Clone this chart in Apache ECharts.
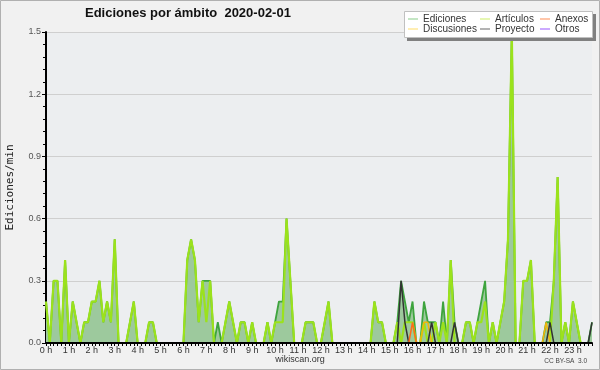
<!DOCTYPE html>
<html><head><meta charset="utf-8">
<script src="https://cdn.jsdelivr.net/npm/echarts@6/dist/echarts.min.js"></script>
<style>html,body{margin:0;padding:0;background:#f1f1f1}#c{width:600px;height:370px}</style>
</head><body><div id="c"></div><script>
const hourLabels = ["0 h","1 h","2 h","3 h","4 h","5 h","6 h","7 h","8 h","9 h","10 h","11 h","12 h","13 h","14 h","15 h","16 h","17 h","18 h","19 h","20 h","21 h","22 h","23 h"];
const times = [];
for (let h = 0; h < 24; h++) for (let m = 0; m < 60; m += 10) times.push(String(h).padStart(2,'0') + ':' + String(m).padStart(2,'0'));

const ediciones = [
 0.2,0,0.3,0.3,0,0.4,0,0.2,0.1,0,0.1,0.1,
 0.2,0.2,0.3,0.1,0.2,0.1,0.5,0,0,0,0.1,0.2,
 0,0,0,0.1,0.1,0,0,0,0,0,0,0,
 0,0.4,0.5,0.4,0.1,0.3,0.3,0.3,0,0.1,0,0.1,
 0.2,0.1,0,0.1,0.1,0,0.1,0,0,0,0.1,0,
 0.1,0.2,0.2,0.6,0.3,0,0,0,0.1,0.1,0.1,0,
 0,0.1,0.2,0,0,0,0,0,0,0,0,0,
 0,0,0.2,0.1,0.1,0,0,0,0.1,0.3,0.2,0.1,
 0.2,0,0,0.2,0.1,0.1,0.1,0,0.2,0,0.4,0.1,
 0,0,0.1,0.1,0,0.1,0.2,0.3,0,0.1,0,0.1,
 0.2,0.5,1.5,0,0,0.3,0.3,0.4,0,0,0,0.1,
 0.1,0.3,0.8,0,0.1,0,0.2,0.1,0,0,0,0.1
];
const articulos = [
 0.2,0,0.3,0.3,0,0.4,0,0.2,0.1,0,0.1,0.1,
 0.2,0.2,0.3,0.1,0.2,0.1,0.5,0,0,0,0.1,0.2,
 0,0,0,0.1,0.1,0,0,0,0,0,0,0,
 0,0.4,0.5,0.4,0.1,0.3,0.1,0.3,0,0,0,0.1,
 0.2,0.1,0,0.1,0.1,0,0.1,0,0,0,0.1,0,
 0.1,0.1,0.1,0.6,0.3,0,0,0,0.1,0.1,0.1,0,
 0,0.1,0.2,0,0,0,0,0,0,0,0,0,
 0,0,0.2,0.1,0.1,0,0,0,0.1,0,0.1,0.1,
 0.1,0,0,0.1,0,0,0.1,0,0.1,0,0.4,0,
 0,0,0.1,0.1,0,0.1,0.1,0.2,0,0.1,0,0.1,
 0.2,0.5,1.5,0,0,0.3,0.3,0.4,0,0,0,0,
 0,0.3,0.8,0,0.1,0,0.2,0.1,0,0,0,0
];
const anexos = [
 0,0,0,0,0,0,0,0,0,0,0,0,
 0,0,0,0,0,0,0,0,0,0,0,0,
 0,0,0,0,0,0,0,0,0,0,0,0,
 0,0,0,0,0,0,0,0,0,0,0,0,
 0,0,0,0,0,0,0,0,0,0,0,0,
 0,0,0,0,0,0,0,0,0,0,0,0,
 0,0,0,0,0,0,0,0,0,0,0,0,
 0,0,0,0,0,0,0,0,0,0,0,0,
 0.1,0,0,0,0,0,0,0,0,0,0,0,
 0,0,0,0,0,0,0,0,0,0,0,0,
 0,0,0,0,0,0,0,0,0,0,0,0,
 0,0,0,0,0,0,0,0,0,0,0,0
];
const discusiones = [
 0,0,0,0,0,0,0,0,0,0,0,0,
 0,0,0,0,0,0,0,0,0,0,0,0,
 0,0,0,0,0,0,0,0,0,0,0,0,
 0,0,0,0,0,0,0,0,0,0,0,0,
 0,0,0,0,0,0,0,0,0,0,0,0,
 0,0,0,0,0,0,0,0,0,0,0,0,
 0,0,0,0,0,0,0,0,0,0,0,0,
 0,0,0,0,0,0,0,0,0,0,0,0,
 0,0,0,0.1,0.1,0,0,0,0,0,0,0,
 0,0,0,0,0,0,0,0,0,0,0,0,
 0,0,0,0,0,0,0,0,0,0,0,0.1,
 0,0,0,0,0,0,0,0,0,0,0,0
];
const proyecto = [
 0,0,0,0,0,0,0,0,0,0,0,0,
 0,0,0,0,0,0,0,0,0,0,0,0,
 0,0,0,0,0,0,0,0,0,0,0,0,
 0,0,0,0,0,0,0,0,0,0,0,0,
 0,0,0,0,0,0,0,0,0,0,0,0,
 0,0,0,0,0,0,0,0,0,0,0,0,
 0,0,0,0,0,0,0,0,0,0,0,0,
 0,0,0,0,0,0,0,0,0,0.3,0.1,0,
 0,0,0,0,0,0.1,0,0,0,0,0,0.1,
 0,0,0,0,0,0,0,0,0,0,0,0,
 0,0,0,0,0,0,0,0,0,0,0,0,
 0.1,0,0,0,0,0,0,0,0,0,0,0.1
];
const otros = [
 0,0,0,0,0,0,0,0,0,0,0,0,
 0,0,0,0,0,0,0,0,0,0,0,0,
 0,0,0,0,0,0,0,0,0,0,0,0,
 0,0,0,0,0,0,0,0,0,0,0,0,
 0,0,0,0,0,0,0,0,0,0,0,0,
 0,0,0,0,0,0,0,0,0,0,0,0,
 0,0,0,0,0,0,0,0,0,0,0,0,
 0,0,0,0,0,0,0,0,0,0,0,0,
 0,0,0,0,0,0,0,0,0,0,0,0,
 0,0,0,0,0,0,0,0,0,0,0,0,
 0,0,0,0,0,0,0,0,0,0,0,0,
 0,0,0,0,0,0,0,0,0,0,0,0
];

const chart = echarts.init(document.getElementById('c'), null, {renderer: 'canvas'});
const legendText = {fontFamily: 'Liberation Sans', fontSize: 10, color: '#333', lineHeight: 10};
function legendCol(left, items) {
  return {
    orient: 'vertical', left: left, top: 14, padding: 0, itemGap: 0,
    itemWidth: 10, itemHeight: 1, icon: 'rect', z: 6,
    textStyle: legendText, itemStyle: {borderWidth: 0},
    data: items
  };
}
const line = (name, data, color, width, z, extra) => Object.assign({
  name: name, type: 'line', data: data, symbol: 'none', showSymbol: false,
  lineStyle: {color: color, width: width}, itemStyle: {color: color},
  z: z, animation: false
}, extra || {});

chart.setOption({
  backgroundColor: '#f1f1f1',
  animation: false,
  title: {
    text: 'Ediciones por ámbito  2020-02-01', left: 85, top: 7, padding: 0,
    textStyle: {fontFamily: 'Liberation Sans', fontWeight: 'bold', fontSize: 13, color: '#111'}
  },
  grid: {left: 46, right: 8, top: 32, bottom: 27, show: true, backgroundColor: '#eceef0', borderWidth: 0, containLabel: false, outerBoundsMode: 'none'},
  legend: [
    legendCol(408, [{name: 'Ediciones', itemStyle: {color: '#88cc88'}}, {name: 'Discusiones', itemStyle: {color: '#ffdd66'}}]),
    legendCol(480, [{name: 'Artículos', itemStyle: {color: '#ccee66'}}, {name: 'Proyecto', itemStyle: {color: '#666666'}}]),
    legendCol(540, [{name: 'Anexos', itemStyle: {color: '#ff8c55'}}, {name: 'Otros', itemStyle: {color: '#9955ff'}}])
  ],
  xAxis: {
    type: 'category', data: times, boundaryGap: false, z: 10,
    axisLine: {lineStyle: {color: '#000', width: 2}},
    axisTick: {show: true, interval: 0, length: 3, lineStyle: {color: '#000', width: 1}},
    axisLabel: {
      interval: 0, margin: 3, fontFamily: 'Liberation Sans', fontSize: 9, color: '#333',
      formatter: (v, idx) => idx % 6 === 0 ? hourLabels[idx / 6] : ''
    },
    splitLine: {show: false}
  },
  yAxis: {
    type: 'value', min: 0, max: 1.5, interval: 0.3,
    name: 'Ediciones/min', nameLocation: 'middle', nameRotate: 90, nameGap: 30,
    nameTextStyle: {fontFamily: 'DejaVu Sans Mono', fontSize: 11, color: '#222'},
    axisLine: {show: true, lineStyle: {color: '#000', width: 2}},
    axisTick: {show: true, length: 4, lineStyle: {color: '#000'}},
    minorTick: {show: true, splitNumber: 5, length: 3, lineStyle: {color: '#000'}},
    axisLabel: {margin: 5, fontFamily: 'Liberation Sans', fontSize: 9, color: '#555', formatter: v => v.toFixed(1)},
    splitLine: {show: true, lineStyle: {color: '#cfcfcf', width: 1}}
  },
  series: [
    line('Ediciones', ediciones, '#3ea43e', 1.8, 2, {areaStyle: {color: '#9dc99d', opacity: 1}}),
    line('Artículos', articulos, '#9be21c', 2.2, 3),
    line('Discusiones', discusiones, '#f2b50a', 1.5, 4),
    line('Proyecto', proyecto, '#333333', 1.5, 5),
    line('Anexos', anexos, '#ff6a1a', 1.5, 6),
    line('Otros', otros, '#8a3cff', 1.5, 4)
  ],
  graphic: [
    {type: 'rect', z: 100, silent: true, shape: {x: 0.5, y: 0.5, width: 599, height: 369}, style: {fill: 'none', stroke: '#b0b0b0', lineWidth: 1}},
    {type: 'rect', z: 5, silent: true, shape: {x: 407, y: 14, width: 189, height: 27}, style: {fill: '#808080'}},
    {type: 'rect', z: 5, silent: true, shape: {x: 404.5, y: 11.5, width: 188, height: 26}, style: {fill: '#ffffff', stroke: '#c0c0c0', lineWidth: 1}},
    {type: 'text', z: 10, silent: true, left: 'center', top: 355, style: {text: 'wikiscan.org', fontFamily: 'Liberation Sans', fontSize: 9, fill: '#333'}},
    {type: 'text', z: 10, silent: true, right: 13, top: 358, style: {text: 'CC BY-SA  3.0', fontFamily: 'Liberation Sans', fontSize: 6.5, fill: '#444'}}
  ]
});
</script></body></html>
